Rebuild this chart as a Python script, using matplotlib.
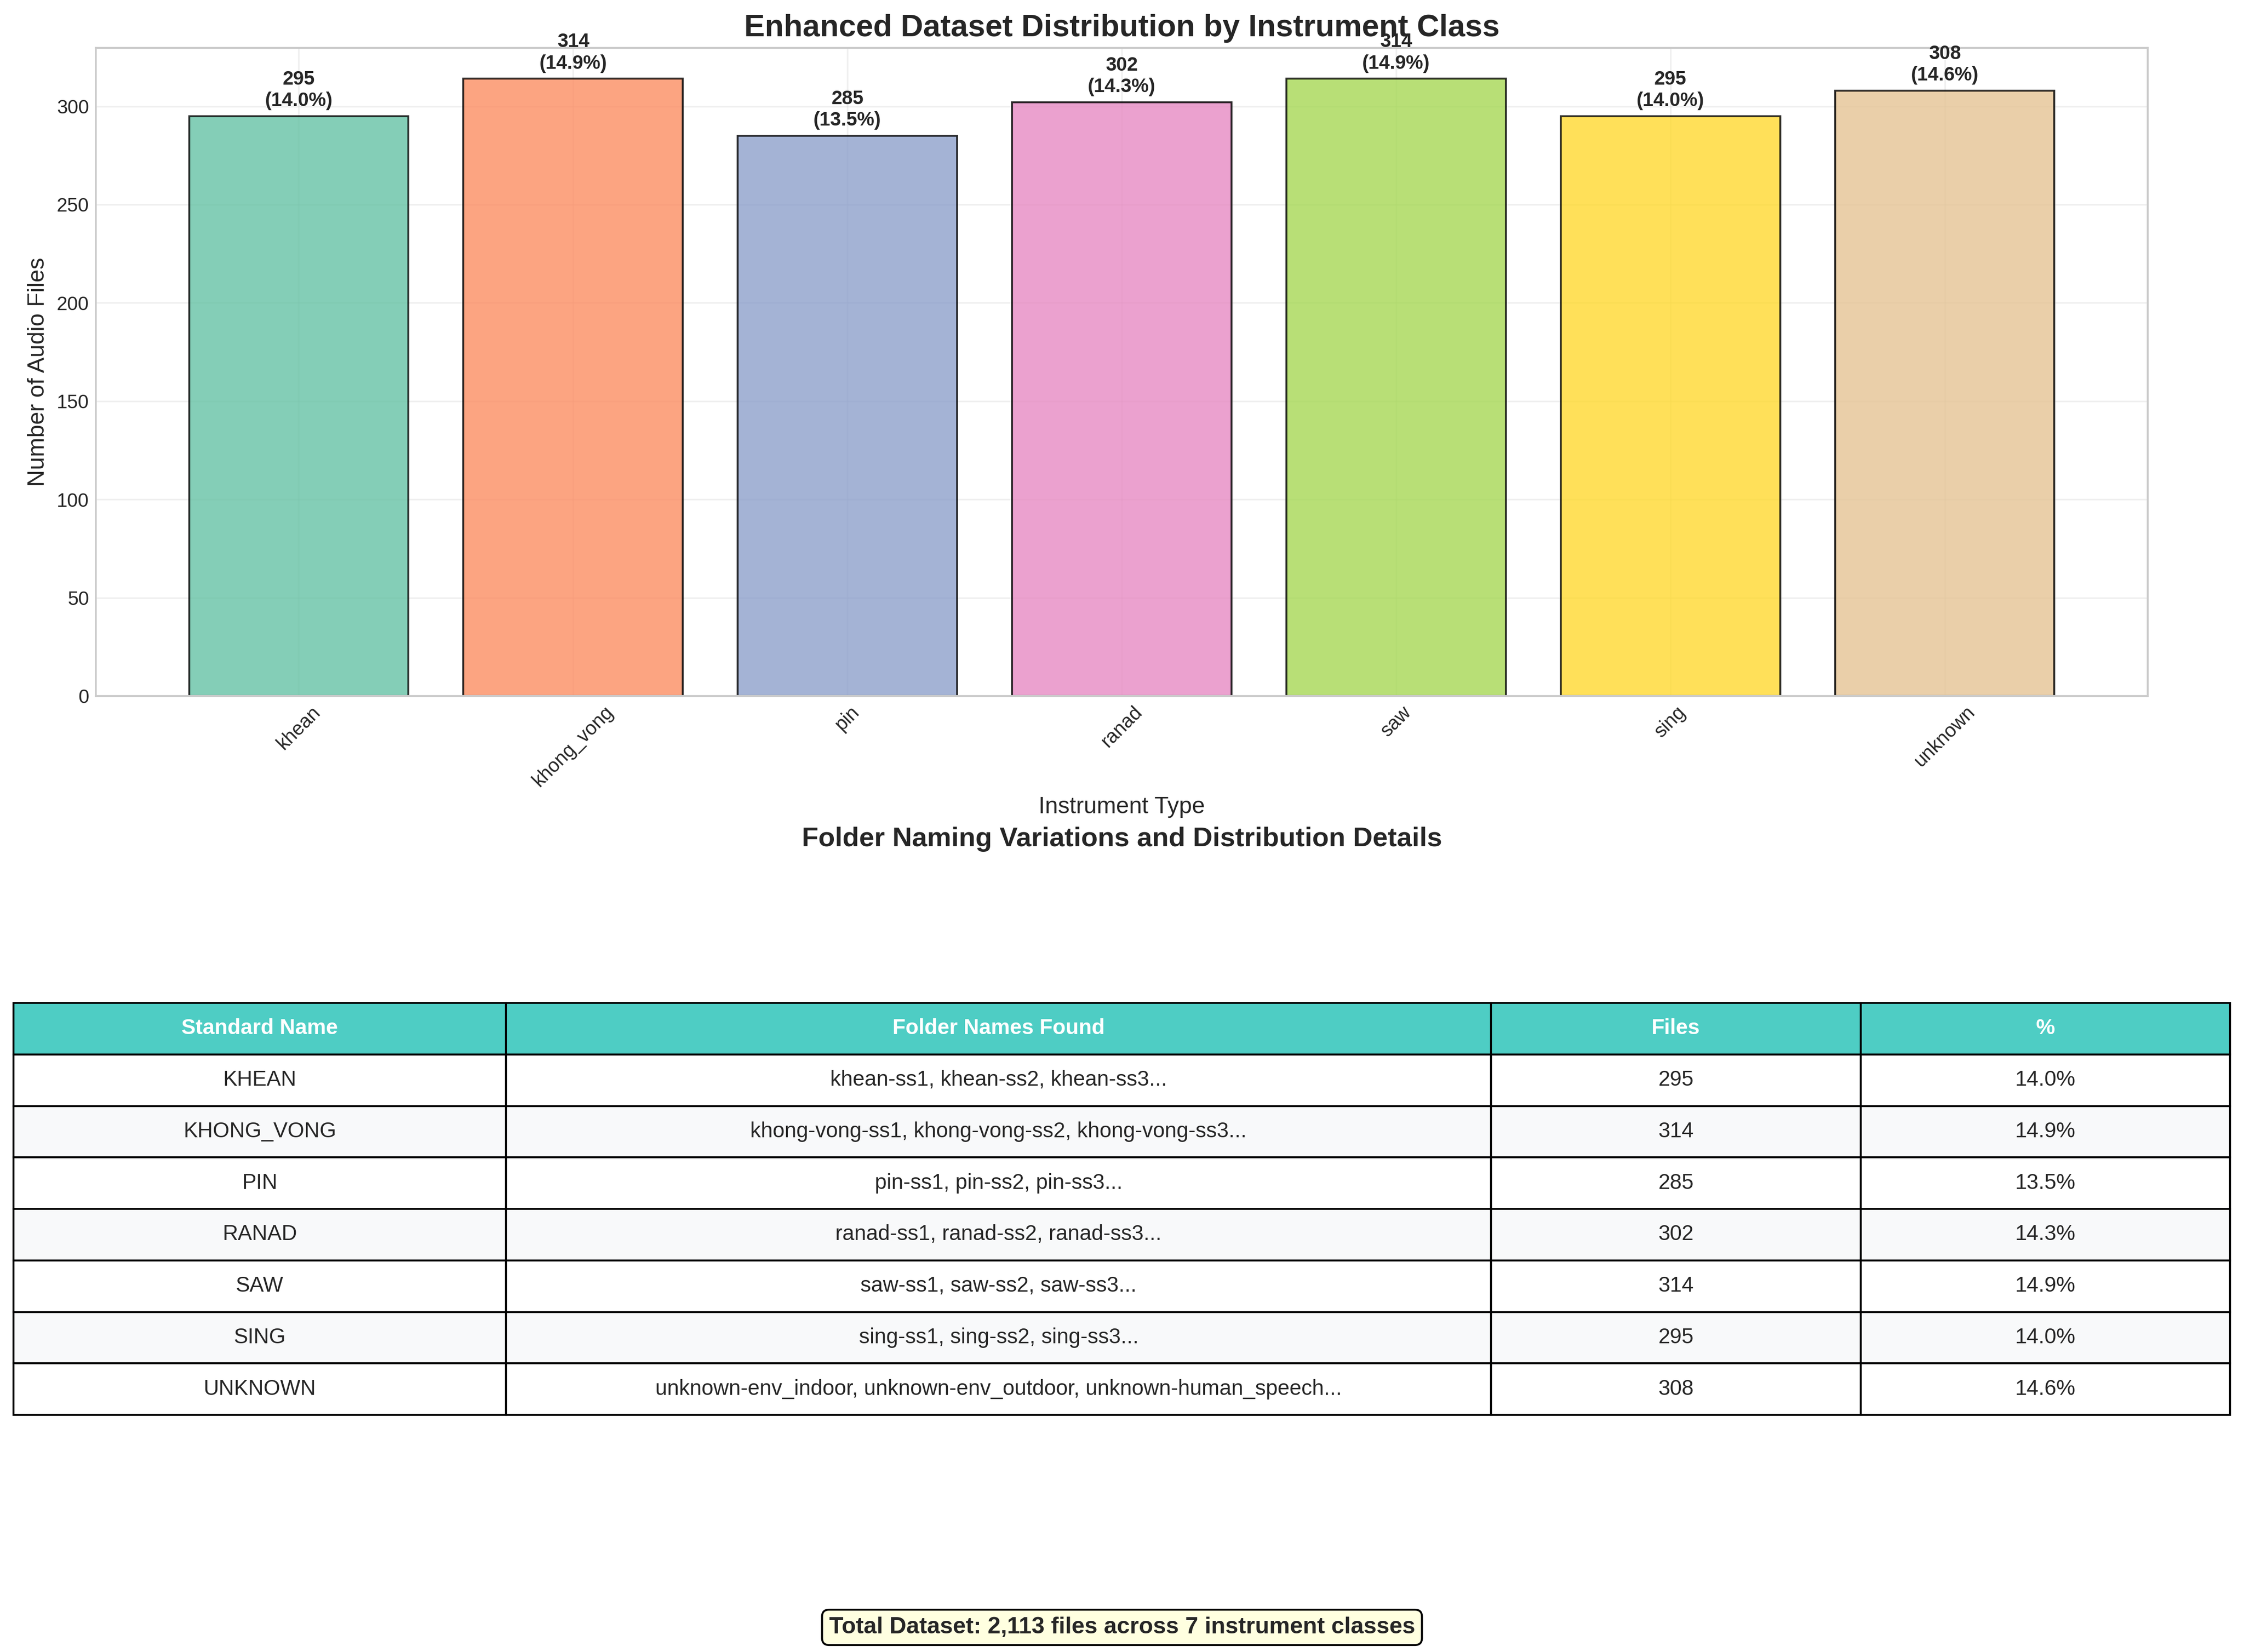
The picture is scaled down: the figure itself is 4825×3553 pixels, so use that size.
import numpy as np
import matplotlib
matplotlib.use("Agg")
import matplotlib.pyplot as plt

# === Data ===
instruments = ["khean", "khong_vong", "pin", "ranad", "saw", "sing", "unknown"]
file_counts = [295, 314, 285, 302, 314, 295, 308]
folder_names = [
    "khean-ss1, khean-ss2, khean-ss3...",
    "khong-vong-ss1, khong-vong-ss2, khong-vong-ss3...",
    "pin-ss1, pin-ss2, pin-ss3...",
    "ranad-ss1, ranad-ss2, ranad-ss3...",
    "saw-ss1, saw-ss2, saw-ss3...",
    "sing-ss1, sing-ss2, sing-ss3...",
    "unknown-env_indoor, unknown-env_outdoor, unknown-human_speech...",
]
table_headers = ["Standard Name", "Folder Names Found", "Files", "%"]

plt.style.use("seaborn-v0_8-whitegrid")
plt.rcParams["font.family"] = ["Liberation Sans", "DejaVu Sans"]

total = sum(file_counts)
percents = [c / total * 100 for c in file_counts]
colors = plt.cm.Set2(np.arange(len(instruments)))

fig = plt.figure(figsize=(4825 / 300, 3553 / 300), dpi=300)

# --- bar chart
ax1 = fig.add_axes([206 / 4825, 1 - 1497 / 3553, 4412 / 4825, 1394 / 3553])
x = np.arange(len(instruments))
ax1.bar(x, file_counts, color=colors, alpha=0.8, edgecolor="black", linewidth=1)
for xi, cnt, pct in zip(x, file_counts, percents):
    ax1.text(xi, cnt + 3, f"{cnt}\n({pct:.1f}%)", ha="center", va="bottom",
             fontsize=10, fontweight="bold")
ax1.set_xticks(x)
ax1.set_xticklabels(instruments, rotation=45, fontsize=10)
ax1.tick_params(axis="y", labelsize=10)
ax1.set_title("Enhanced Dataset Distribution by Instrument Class",
              fontsize=16, fontweight="bold")
ax1.set_xlabel("Instrument Type", fontsize=12, labelpad=3)
ax1.set_ylabel("Number of Audio Files", fontsize=12)
ax1.grid(True, alpha=0.3)

# --- table
fig.text(0.5, 1 - 1820 / 3553, "Folder Naming Variations and Distribution Details",
         ha="center", va="baseline", fontsize=14, fontweight="bold")

ax2 = fig.add_axes([29 / 4825, 1 - 3043 / 3553, 4766 / 4825, 886 / 3553])
ax2.axis("off")
rows = [[name.upper(), folders, str(cnt), f"{pct:.1f}%"]
        for name, folders, cnt, pct in zip(instruments, folder_names, file_counts, percents)]
table = ax2.table(cellText=rows, colLabels=table_headers, cellLoc="center",
                  colWidths=[0.2, 0.4, 0.15, 0.15], bbox=[0, 0, 1, 1])
table.auto_set_font_size(False)
table.set_fontsize(11)
for (r, c), cell in table.get_celld().items():
    cell.set_edgecolor("black")
    if r == 0:
        cell.set_facecolor("#4ECDC4")
        cell.set_text_props(color="white", fontweight="bold")
    elif r % 2 == 0:
        cell.set_facecolor("#f8f9fa")
    else:
        cell.set_facecolor("white")

fig.text(0.5, 1 - 3500 / 3553,
         f"Total Dataset: {total:,} files across {len(instruments)} instrument classes",
         ha="center", va="center", fontsize=12, fontweight="bold",
         bbox=dict(boxstyle="round,pad=0.3", facecolor="lightyellow", edgecolor="black"))

fig.savefig("out.png", dpi=300)
